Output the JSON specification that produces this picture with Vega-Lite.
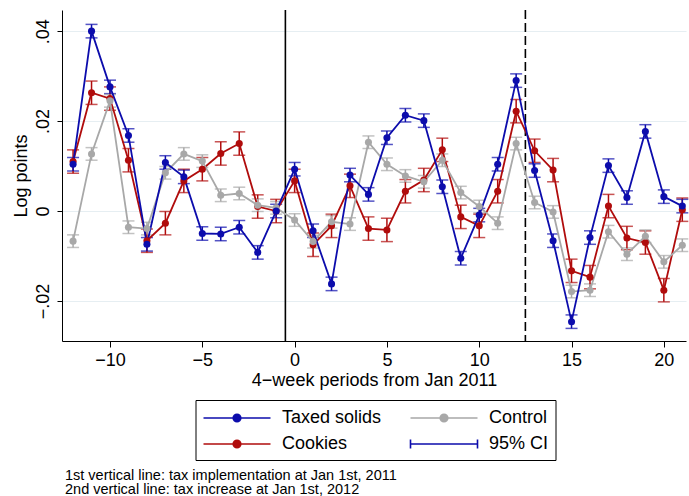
{
  "$schema": "https://vega.github.io/schema/vega-lite/v6.json",
  "width": 624,
  "height": 331,
  "autosize": "none",
  "padding": {"left": 62, "top": 10, "right": 3, "bottom": 155},
  "background": "white",
  "config": {
    "font": "Liberation Sans",
    "view": {"stroke": null},
    "axis": {"labelFont": "Liberation Sans", "titleFont": "Liberation Sans", "labelColor": "black", "titleColor": "black", "titleFontWeight": "normal", "domainColor": "black", "tickColor": "black", "labelFontSize": 18, "titleFontSize": 18},
    "legend": {"title": null, "orient": "none", "legendX": 133.5, "legendY": 390, "columns": 2, "symbolSize": 400, "symbolOffset": 23.5, "labelOffset": 34, "labelFontSize": 18, "labelFont": "Liberation Sans", "labelColor": "black", "labelLimit": 0, "strokeColor": "black", "padding": 7, "columnPadding": 25, "rowPadding": 6, "symbolStrokeWidth": 1.6, "symbolOpacity": 1}
  },
  "title": {
    "text": ["1st vertical line: tax implementation at Jan 1st, 2011", "2nd vertical line: tax increase at Jan 1st, 2012"],
    "orient": "bottom", "anchor": "start", "frame": "group", "dx": 3, "fontSize": 14.5, "fontWeight": "normal", "font": "Liberation Sans", "color": "black", "lineHeight": 14.5, "offset": 8
  },
  "data": {"values": [
    {"s":"Cookies","x":-12,"v":0.0110,"lo":0.0084,"hi":0.0136},
    {"s":"Cookies","x":-11,"v":0.0263,"lo":0.0237,"hi":0.0289},
    {"s":"Cookies","x":-10,"v":0.0250,"lo":0.0224,"hi":0.0276},
    {"s":"Cookies","x":-9,"v":0.0113,"lo":0.0087,"hi":0.0139},
    {"s":"Cookies","x":-8,"v":-0.0066,"lo":-0.0092,"hi":-0.0040},
    {"s":"Cookies","x":-7,"v":-0.0027,"lo":-0.0053,"hi":-0.0001},
    {"s":"Cookies","x":-6,"v":0.0067,"lo":0.0041,"hi":0.0093},
    {"s":"Cookies","x":-5,"v":0.0093,"lo":0.0067,"hi":0.0119},
    {"s":"Cookies","x":-4,"v":0.0128,"lo":0.0102,"hi":0.0154},
    {"s":"Cookies","x":-3,"v":0.0150,"lo":0.0124,"hi":0.0176},
    {"s":"Cookies","x":-2,"v":0.0010,"lo":-0.0016,"hi":0.0036},
    {"s":"Cookies","x":-1,"v":0.0000,"lo":-0.0026,"hi":0.0026},
    {"s":"Cookies","x":0,"v":0.0067,"lo":0.0041,"hi":0.0093},
    {"s":"Cookies","x":1,"v":-0.0075,"lo":-0.0101,"hi":-0.0049},
    {"s":"Cookies","x":2,"v":-0.0033,"lo":-0.0059,"hi":-0.0007},
    {"s":"Cookies","x":3,"v":0.0056,"lo":0.0030,"hi":0.0082},
    {"s":"Cookies","x":4,"v":-0.0039,"lo":-0.0065,"hi":-0.0013},
    {"s":"Cookies","x":5,"v":-0.0042,"lo":-0.0068,"hi":-0.0016},
    {"s":"Cookies","x":6,"v":0.0044,"lo":0.0018,"hi":0.0070},
    {"s":"Cookies","x":7,"v":0.0069,"lo":0.0043,"hi":0.0095},
    {"s":"Cookies","x":8,"v":0.0136,"lo":0.0110,"hi":0.0162},
    {"s":"Cookies","x":9,"v":-0.0013,"lo":-0.0039,"hi":0.0013},
    {"s":"Cookies","x":10,"v":-0.0033,"lo":-0.0059,"hi":-0.0007},
    {"s":"Cookies","x":11,"v":0.0044,"lo":0.0018,"hi":0.0070},
    {"s":"Cookies","x":12,"v":0.0222,"lo":0.0196,"hi":0.0248},
    {"s":"Cookies","x":13,"v":0.0134,"lo":0.0108,"hi":0.0160},
    {"s":"Cookies","x":14,"v":0.0091,"lo":0.0065,"hi":0.0117},
    {"s":"Cookies","x":15,"v":-0.0133,"lo":-0.0159,"hi":-0.0107},
    {"s":"Cookies","x":16,"v":-0.0147,"lo":-0.0173,"hi":-0.0121},
    {"s":"Cookies","x":17,"v":0.0011,"lo":-0.0015,"hi":0.0037},
    {"s":"Cookies","x":18,"v":-0.0060,"lo":-0.0086,"hi":-0.0034},
    {"s":"Cookies","x":19,"v":-0.0070,"lo":-0.0096,"hi":-0.0044},
    {"s":"Cookies","x":20,"v":-0.0176,"lo":-0.0202,"hi":-0.0150},
    {"s":"Cookies","x":21,"v":0.0003,"lo":-0.0023,"hi":0.0029},
    {"s":"Control","x":-12,"v":-0.0067,"lo":-0.0081,"hi":-0.0053},
    {"s":"Control","x":-11,"v":0.0127,"lo":0.0113,"hi":0.0141},
    {"s":"Control","x":-10,"v":0.0245,"lo":0.0231,"hi":0.0259},
    {"s":"Control","x":-9,"v":-0.0036,"lo":-0.0050,"hi":-0.0022},
    {"s":"Control","x":-8,"v":-0.0039,"lo":-0.0053,"hi":-0.0025},
    {"s":"Control","x":-7,"v":0.0085,"lo":0.0071,"hi":0.0099},
    {"s":"Control","x":-6,"v":0.0127,"lo":0.0113,"hi":0.0141},
    {"s":"Control","x":-5,"v":0.0111,"lo":0.0097,"hi":0.0125},
    {"s":"Control","x":-4,"v":0.0035,"lo":0.0021,"hi":0.0049},
    {"s":"Control","x":-3,"v":0.0039,"lo":0.0025,"hi":0.0053},
    {"s":"Control","x":-2,"v":0.0013,"lo":-0.0001,"hi":0.0027},
    {"s":"Control","x":-1,"v":0.0007,"lo":-0.0007,"hi":0.0021},
    {"s":"Control","x":0,"v":-0.0020,"lo":-0.0034,"hi":-0.0006},
    {"s":"Control","x":1,"v":-0.0068,"lo":-0.0082,"hi":-0.0054},
    {"s":"Control","x":2,"v":-0.0024,"lo":-0.0038,"hi":-0.0010},
    {"s":"Control","x":3,"v":-0.0029,"lo":-0.0043,"hi":-0.0015},
    {"s":"Control","x":4,"v":0.0153,"lo":0.0139,"hi":0.0167},
    {"s":"Control","x":5,"v":0.0104,"lo":0.0090,"hi":0.0118},
    {"s":"Control","x":6,"v":0.0078,"lo":0.0064,"hi":0.0092},
    {"s":"Control","x":7,"v":0.0065,"lo":0.0051,"hi":0.0079},
    {"s":"Control","x":8,"v":0.0113,"lo":0.0099,"hi":0.0127},
    {"s":"Control","x":9,"v":0.0041,"lo":0.0027,"hi":0.0055},
    {"s":"Control","x":10,"v":0.0010,"lo":-0.0004,"hi":0.0024},
    {"s":"Control","x":11,"v":-0.0027,"lo":-0.0041,"hi":-0.0013},
    {"s":"Control","x":12,"v":0.0150,"lo":0.0136,"hi":0.0164},
    {"s":"Control","x":13,"v":0.0019,"lo":0.0005,"hi":0.0033},
    {"s":"Control","x":14,"v":-0.0002,"lo":-0.0016,"hi":0.0012},
    {"s":"Control","x":15,"v":-0.0179,"lo":-0.0193,"hi":-0.0165},
    {"s":"Control","x":16,"v":-0.0176,"lo":-0.0190,"hi":-0.0162},
    {"s":"Control","x":17,"v":-0.0046,"lo":-0.0060,"hi":-0.0032},
    {"s":"Control","x":18,"v":-0.0096,"lo":-0.0110,"hi":-0.0082},
    {"s":"Control","x":19,"v":-0.0056,"lo":-0.0070,"hi":-0.0042},
    {"s":"Control","x":20,"v":-0.0113,"lo":-0.0127,"hi":-0.0099},
    {"s":"Control","x":21,"v":-0.0076,"lo":-0.0090,"hi":-0.0062},
    {"s":"Taxed solids","x":-12,"v":0.0104,"lo":0.0089,"hi":0.0119},
    {"s":"Taxed solids","x":-11,"v":0.0400,"lo":0.0385,"hi":0.0415},
    {"s":"Taxed solids","x":-10,"v":0.0276,"lo":0.0261,"hi":0.0291},
    {"s":"Taxed solids","x":-9,"v":0.0168,"lo":0.0153,"hi":0.0183},
    {"s":"Taxed solids","x":-8,"v":-0.0074,"lo":-0.0089,"hi":-0.0059},
    {"s":"Taxed solids","x":-7,"v":0.0108,"lo":0.0093,"hi":0.0123},
    {"s":"Taxed solids","x":-6,"v":0.0076,"lo":0.0061,"hi":0.0091},
    {"s":"Taxed solids","x":-5,"v":-0.0050,"lo":-0.0065,"hi":-0.0035},
    {"s":"Taxed solids","x":-4,"v":-0.0051,"lo":-0.0066,"hi":-0.0036},
    {"s":"Taxed solids","x":-3,"v":-0.0036,"lo":-0.0051,"hi":-0.0021},
    {"s":"Taxed solids","x":-2,"v":-0.0092,"lo":-0.0107,"hi":-0.0077},
    {"s":"Taxed solids","x":-1,"v":0.0000,"lo":-0.0015,"hi":0.0015},
    {"s":"Taxed solids","x":0,"v":0.0093,"lo":0.0078,"hi":0.0108},
    {"s":"Taxed solids","x":1,"v":-0.0044,"lo":-0.0059,"hi":-0.0029},
    {"s":"Taxed solids","x":2,"v":-0.0162,"lo":-0.0177,"hi":-0.0147},
    {"s":"Taxed solids","x":3,"v":0.0080,"lo":0.0065,"hi":0.0095},
    {"s":"Taxed solids","x":4,"v":0.0037,"lo":0.0022,"hi":0.0052},
    {"s":"Taxed solids","x":5,"v":0.0163,"lo":0.0148,"hi":0.0178},
    {"s":"Taxed solids","x":6,"v":0.0213,"lo":0.0198,"hi":0.0228},
    {"s":"Taxed solids","x":7,"v":0.0201,"lo":0.0186,"hi":0.0216},
    {"s":"Taxed solids","x":8,"v":0.0054,"lo":0.0039,"hi":0.0069},
    {"s":"Taxed solids","x":9,"v":-0.0105,"lo":-0.0120,"hi":-0.0090},
    {"s":"Taxed solids","x":10,"v":-0.0009,"lo":-0.0024,"hi":0.0006},
    {"s":"Taxed solids","x":11,"v":0.0104,"lo":0.0089,"hi":0.0119},
    {"s":"Taxed solids","x":12,"v":0.0290,"lo":0.0275,"hi":0.0305},
    {"s":"Taxed solids","x":13,"v":0.0090,"lo":0.0075,"hi":0.0105},
    {"s":"Taxed solids","x":14,"v":-0.0066,"lo":-0.0081,"hi":-0.0051},
    {"s":"Taxed solids","x":15,"v":-0.0246,"lo":-0.0261,"hi":-0.0231},
    {"s":"Taxed solids","x":16,"v":-0.0059,"lo":-0.0074,"hi":-0.0044},
    {"s":"Taxed solids","x":17,"v":0.0101,"lo":0.0086,"hi":0.0116},
    {"s":"Taxed solids","x":18,"v":0.0030,"lo":0.0015,"hi":0.0045},
    {"s":"Taxed solids","x":19,"v":0.0177,"lo":0.0162,"hi":0.0192},
    {"s":"Taxed solids","x":20,"v":0.0032,"lo":0.0017,"hi":0.0047},
    {"s":"Taxed solids","x":21,"v":0.0011,"lo":-0.0004,"hi":0.0026}
  ]},
  "layer": [
    {
      "data": {"values": [{"x": -0.5, "t": "implementation"}, {"x": 12.5, "t": "increase"}]},
      "mark": {"type": "rule", "color": "black", "strokeWidth": 1.6},
      "encoding": {
        "x": {"field": "x", "type": "quantitative", "scale": {"domain": [-12.6, 21.2], "nice": false, "zero": false}},
        "strokeDash": {"field": "t", "type": "nominal", "scale": {"domain": ["implementation", "increase"], "range": [[1, 0], [9, 4]]}, "legend": null}
      }
    },
    {
      "mark": {"type": "errorbar", "ticks": {"size": 12, "thickness": 1.5}, "rule": {"strokeWidth": 1.5}},
      "encoding": {
        "x": {"field": "x", "type": "quantitative"},
        "y": {"field": "lo", "type": "quantitative", "title": "Log points"},
        "y2": {"field": "hi"},
        "color": {"field": "s", "type": "nominal"}
      }
    },
    {
      "mark": {"type": "line", "strokeWidth": 1.8, "point": {"filled": true, "size": 50}},
      "encoding": {
        "x": {"field": "x", "type": "quantitative", "scale": {"domain": [-12.6, 21.2], "nice": false, "zero": false},
          "axis": {"values": [-10, -5, 0, 5, 10, 15, 20], "format": "d", "grid": false, "tickSize": 6, "labelPadding": 4, "title": "4\u2212week periods from Jan 2011", "titlePadding": 2}},
        "y": {"field": "v", "type": "quantitative", "title": "Log points", "scale": {"domain": [-0.0289, 0.0447], "nice": false, "zero": false},
          "axis": {"values": [-0.02, 0, 0.02, 0.04], "labelExpr": "datum.value == 0 ? '0' : replace(format(datum.value, '.2f'), '0.', '.')", "labelAngle": -90, "labelAlign": "center", "labelBaseline": "bottom", "labelPadding": 5, "tickSize": 5, "grid": true, "gridColor": "#e6eef2", "gridWidth": 1.2, "titlePadding": 4}},
        "color": {"field": "s", "type": "nominal"},
        "detail": {"field": "s"}
      }
    },
    {
      "transform": [{"filter": "datum.x > 100"}],
      "mark": {"type": "point", "filled": true, "size": 400},
      "encoding": {
        "color": {"field": "s", "type": "nominal",
          "scale": {"domain": ["Taxed solids", "Cookies", "Control", "95% CI"], "range": ["#0c0cac", "#b00c0c", "#a8a8a8", "#0c0cac"]},
          "legend": {"encode": {"symbols": {"update": {"stroke": {"scale": "color", "field": "value"}, "fill": {"scale": "color", "field": "value"}, "opacity": {"value": 1}, "strokeWidth": {"value": 1.6}}}}}},
        "shape": {"field": "s", "type": "nominal",
          "scale": {"domain": ["Taxed solids", "Cookies", "Control", "95% CI"], "range": [
            "M-3.35,0H3.35M-0.38,0A0.38,0.38,0,1,1,0.38,0A0.38,0.38,0,1,1,-0.38,0Z",
            "M-3.35,0H3.35M-0.38,0A0.38,0.38,0,1,1,0.38,0A0.38,0.38,0,1,1,-0.38,0Z",
            "M-3.35,0H3.35M-0.38,0A0.38,0.38,0,1,1,0.38,0A0.38,0.38,0,1,1,-0.38,0Z",
            "M-3.35,-0.45V0.45M-3.35,0H3.35M3.35,-0.45V0.45"]},
          "legend": {"encode": {"symbols": {"update": {"stroke": {"scale": "color", "field": "value"}, "fill": {"scale": "color", "field": "value"}, "opacity": {"value": 1}, "strokeWidth": {"value": 1.6}}}}}}
      }
    }
  ]
}
